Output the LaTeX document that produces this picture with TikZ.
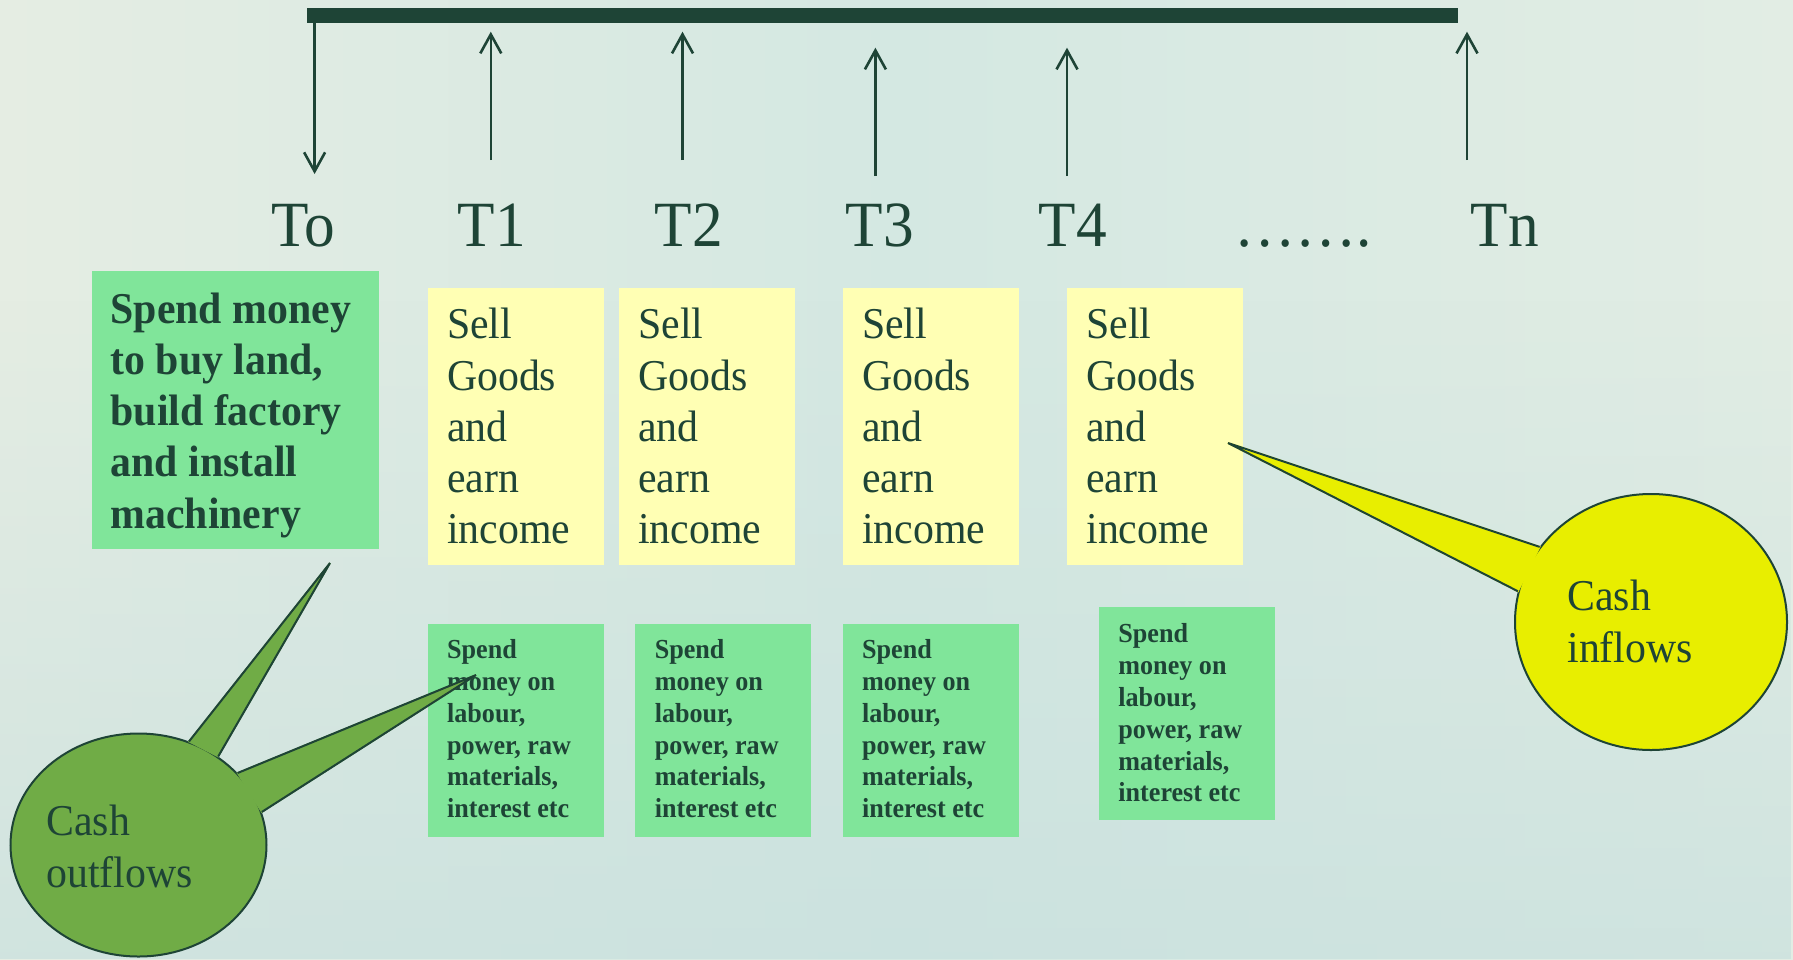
\documentclass[tikz,border=0pt]{standalone}
\usepackage{fontspec}
\setmainfont{Liberation Serif}
\newfontfamily\cf[FakeStretch=0.95]{Liberation Serif}
\usetikzlibrary{arrows.meta,shapes.geometric,fadings}
\definecolor{ink}{RGB}{30,68,54}
\definecolor{boxgreen}{RGB}{128,229,154}
\definecolor{boxyellow}{RGB}{255,255,180}
\definecolor{olive}{RGB}{112,172,70}
\definecolor{lemon}{RGB}{232,238,0}
\definecolor{bgL}{RGB}{229,237,227}
\definecolor{bgM}{RGB}{212,232,226}
\definecolor{bgR}{RGB}{226,237,228}
\definecolor{bgB}{RGB}{200,224,222}
\tikzfading[name=fadebot, top color=transparent!100, bottom color=transparent!0]
\tikzset{
  gbox/.style={draw=none,fill=boxgreen,rectangle,inner sep=0pt},
  ybox/.style={draw=none,fill=boxyellow,rectangle,inner sep=0pt},
  bigtxt/.style={inner sep=0pt,anchor=north west,align=left,text=ink,font=\cf\fontsize{22}{25.6}\selectfont},
  bigbold/.style={bigtxt,font=\cf\bfseries\fontsize{22}{25.6}\selectfont},
  smallbold/.style={inner sep=0pt,anchor=north west,align=left,text=ink,font=\cf\bfseries\fontsize{13.75}{15.9}\selectfont},
  tlabel/.style={inner sep=0pt,anchor=base,text=ink,font=\cf\fontsize{32.25}{36}\selectfont},
  flowarrow/.style={draw=ink,line width=1.3pt,-{Straight Barb[length=9.5pt,width=10.5pt,line width=1.3pt]}},
  bubble/.style={ellipse,draw=ink,line width=1pt,inner sep=0pt},
  spikeline/.style={draw=ink,line width=1pt,line join=miter}
}
\begin{document}
\begin{tikzpicture}[x=0.5pt,y=-0.5pt]
\useasboundingbox (0,0) rectangle (1793,959);
% background
\shade[left color=bgL,right color=bgR,middle color=bgM] (0,0) rectangle (1793,959);
\fill[bgB,path fading=fadebot,fill opacity=0.7] (0,300) rectangle (1793,959);
% time bar
\node[rectangle,fill=ink,inner sep=0pt,minimum width=575.5pt,minimum height=7.7pt,anchor=north west] (bar) at (307,7.3) {};
% arrows
\coordinate (a0s) at (314.6,22.7);  \coordinate (a0e) at (314.6,174);
\coordinate (a1s) at (490.8,160);   \coordinate (a1e) at (490.8,31.7);
\coordinate (a2s) at (682.5,160);   \coordinate (a2e) at (682.5,31.7);
\coordinate (a3s) at (875.4,176);   \coordinate (a3e) at (875.4,47.7);
\coordinate (a4s) at (1067,176);    \coordinate (a4e) at (1067,47.7);
\coordinate (ans) at (1467,160);    \coordinate (ane) at (1467,31.7);
\draw[flowarrow] (a0s) -- (a0e);
\draw[flowarrow] (a1s) -- (a1e);
\draw[flowarrow] (a2s) -- (a2e);
\draw[flowarrow] (a3s) -- (a3e);
\draw[flowarrow] (a4s) -- (a4e);
\draw[flowarrow] (ans) -- (ane);
% time labels
\node[tlabel] (t0) at (303,246.7) {To};
\node[tlabel] (t1) at (492,246.7) {T1};
\node[tlabel] (t2) at (689,246.7) {T2};
\node[tlabel] (t3) at (880,246.7) {T3};
\node[tlabel] (t4) at (1073,246.7) {T4};
\node[tlabel] (tdots) at (1303,246.7) {…….};
\node[tlabel] (tn) at (1505,246.7) {Tn};
% big green box
\node[gbox,minimum width=143.5pt,minimum height=139pt,anchor=north west] (inv) at (91.8,271) {};
\node[bigbold] (invtxt) at (110.2,292.3) {Spend money\\to buy land,\\build factory\\and install\\machinery};
% yellow boxes
\node[ybox,minimum width=87.8pt,minimum height=138.5pt,anchor=north west] (y1) at (427.7,287.6) {};
\node[ybox,minimum width=88.1pt,minimum height=138.5pt,anchor=north west] (y2) at (618.8,287.6) {};
\node[ybox,minimum width=88pt,minimum height=138.5pt,anchor=north west] (y3) at (842.7,287.6) {};
\node[ybox,minimum width=87.9pt,minimum height=138.5pt,anchor=north west] (y4) at (1067,287.6) {};
\node[bigtxt] (y1t) at (446.7,308) {Sell\\Goods\\and\\earn\\income};
\node[bigtxt] (y2t) at (637.8,308) {Sell\\Goods\\and\\earn\\income};
\node[bigtxt] (y3t) at (861.7,308) {Sell\\Goods\\and\\earn\\income};
\node[bigtxt] (y4t) at (1086,308) {Sell\\Goods\\and\\earn\\income};
% small green boxes
\node[gbox,minimum width=87.8pt,minimum height=106.6pt,anchor=north west] (g1) at (427.7,623.3) {};
\node[gbox,minimum width=87.8pt,minimum height=106.6pt,anchor=north west] (g2) at (635,623.3) {};
\node[gbox,minimum width=88pt,minimum height=106.6pt,anchor=north west] (g3) at (842.7,623.3) {};
\node[gbox,minimum width=88pt,minimum height=106.5pt,anchor=north west] (g4) at (1099,607) {};
\node[smallbold] (g1t) at (446.7,639.2) {Spend\\money on\\labour,\\power, raw\\materials,\\interest etc};
\node[smallbold] (g2t) at (654.4,639.2) {Spend\\money on\\labour,\\power, raw\\materials,\\interest etc};
\node[smallbold] (g3t) at (861.7,639.2) {Spend\\money on\\labour,\\power, raw\\materials,\\interest etc};
\node[smallbold] (g4t) at (1118,623.5) {Spend\\money on\\labour,\\power, raw\\materials,\\interest etc};
% cash outflows callout
\node[bubble,fill=olive,minimum width=128pt,minimum height=111.5pt] (out) at (138.5,845) {};
\coordinate (tipA) at (330,563);
\coordinate (tipB) at (476,675);
\fill[olive,draw=olive,line width=0.8pt] (out.64.8) -- (tipA) -- (out.48.7) -- cycle;
\fill[olive,draw=olive,line width=0.8pt] (out.36.6) -- (tipB) -- (out.15.5) -- cycle;
\draw[spikeline] (out.64.8) -- (tipA) -- (out.48.7);
\draw[spikeline] (out.36.6) -- (tipB) -- (out.15.5);
\node[bigtxt] (outtxt) at (46,805) {Cash\\outflows};
% cash inflows callout
\node[bubble,fill=lemon,minimum width=136pt,minimum height=128pt] (in) at (1651,622) {};
\coordinate (tipC) at (1228,443);
\fill[lemon,draw=lemon,line width=0.8pt] (in.146.7) -- (tipC) -- (in.167.2) -- cycle;
\draw[spikeline] (in.146.7) -- (tipC) -- (in.167.2);
\node[bigtxt] (intxt) at (1567,580) {Cash\\inflows};
\end{tikzpicture}
\end{document}
